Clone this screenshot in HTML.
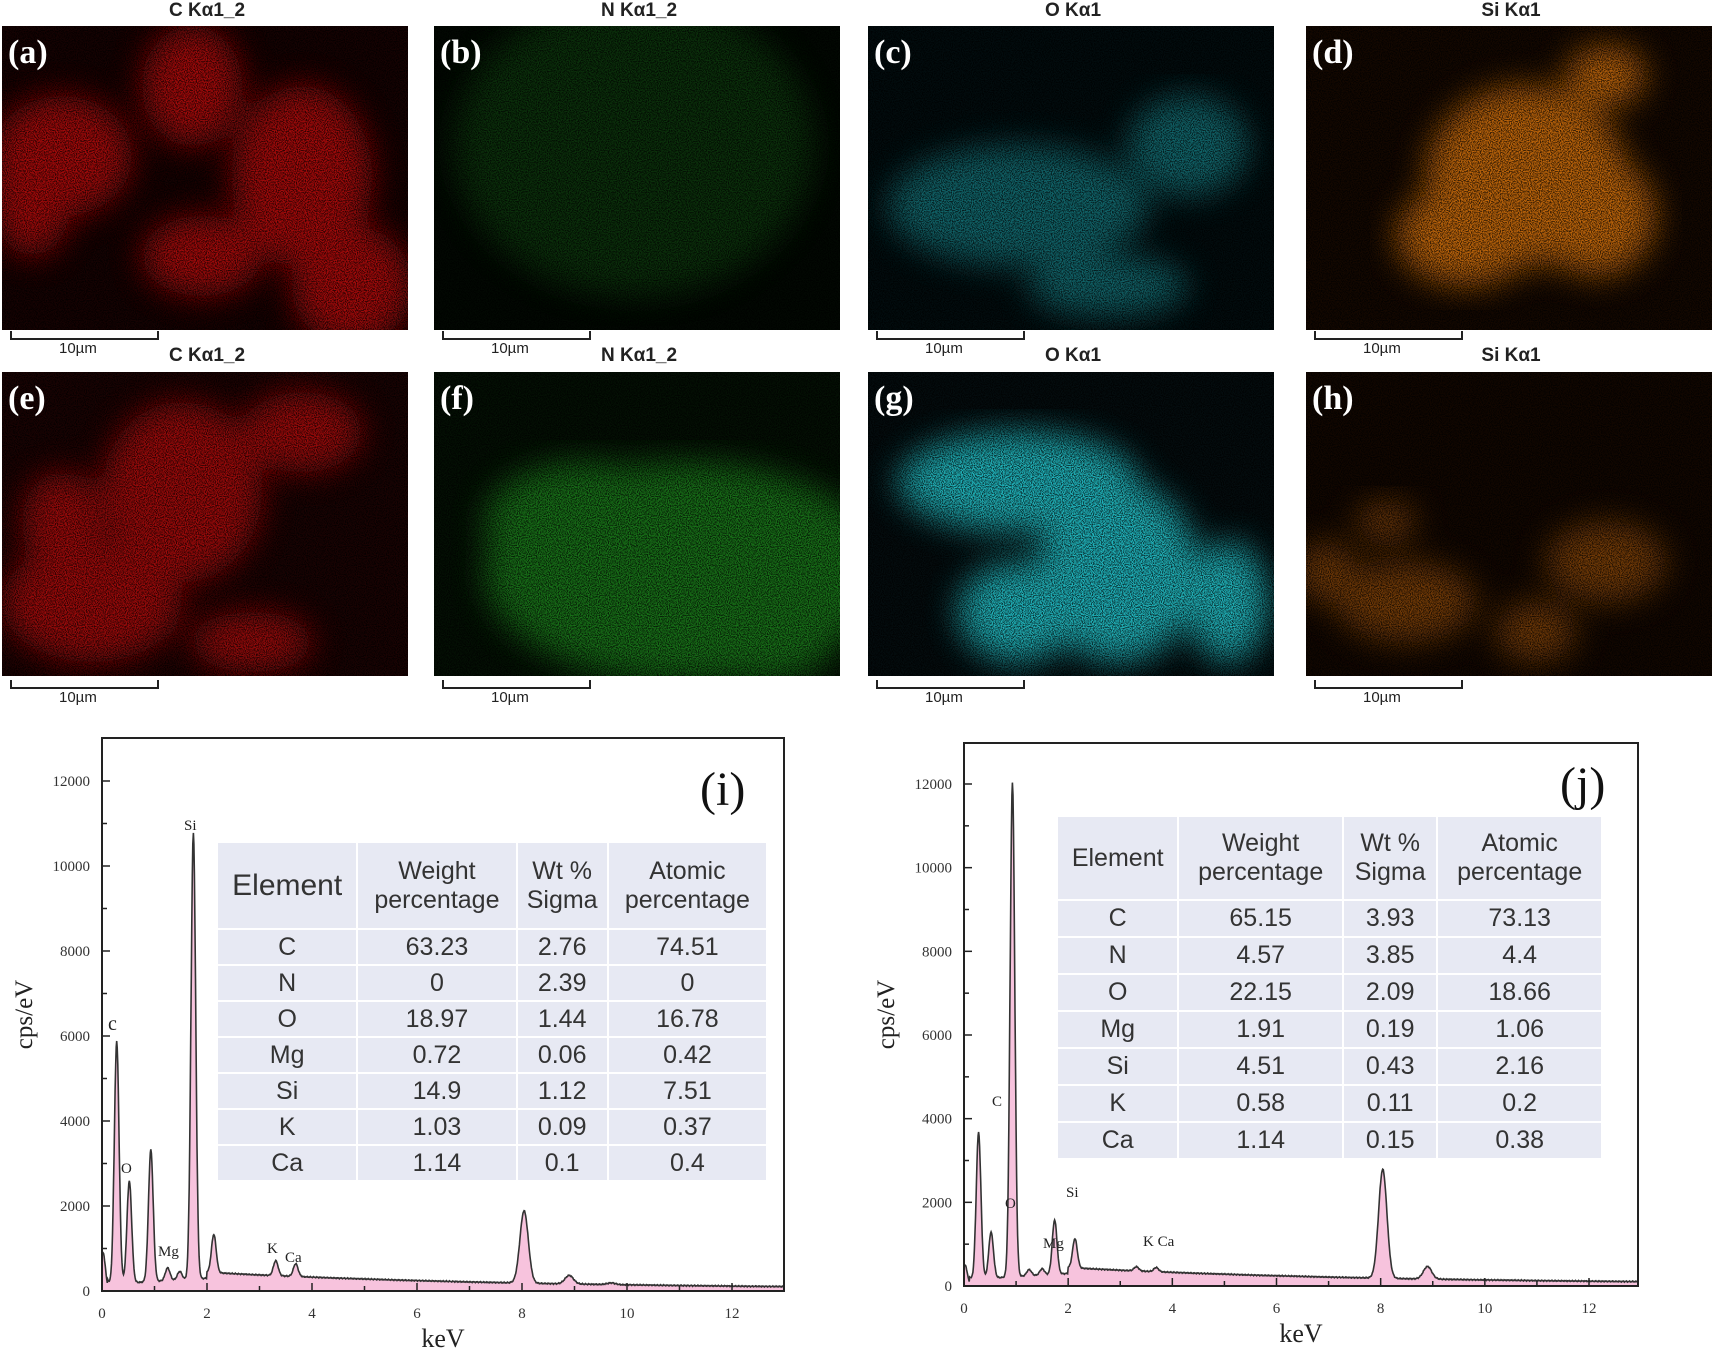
<!DOCTYPE html>
<html><head><meta charset="utf-8">
<style>
body{margin:0;background:#fff;width:1712px;height:1354px;overflow:hidden;position:relative;font-family:"Liberation Sans",sans-serif}
.t{position:absolute;font-size:19px;font-weight:bold;color:#222;text-align:center;width:200px}
.map{position:absolute;width:406px;height:304px;background:#000}
.lab{position:absolute;font-family:"Liberation Serif",serif;font-weight:bold;color:#fff;font-size:34px}
.sb{position:absolute;width:145px;height:7px;border:2px solid #222;border-top:none}
.sbt{position:absolute;font-size:15px;color:#222}
table{position:absolute;border-collapse:collapse;font-family:"Liberation Sans",sans-serif;color:#333;text-align:center}
td{background:#e7e9f3;border:2px solid #fff;padding:0}
</style></head><body>
<svg width="0" height="0" style="position:absolute">
<defs>
<filter id="sp" x="0" y="0" width="100%" height="100%">
<feTurbulence type="fractalNoise" baseFrequency="0.9" numOctaves="1" seed="3" result="n"/>
<feColorMatrix in="n" type="matrix" values="0 0 0 0 0 0 0 0 0 0 0 0 0 0 0 0 0 0 -4 2.4" />
</filter>
<filter id="bl"><feGaussianBlur stdDeviation="16"/></filter>
</defs></svg>

<div id="maps"></div>

<svg style="position:absolute;left:0;top:0" width="1712" height="1354" id="ch"></svg>

<table style="left:216px;top:841px;width:552px;height:341px;font-size:25px">
<tr style="height:87px"><td style="font-size:30px">Element</td><td>Weight<br>percentage</td><td>Wt %<br>Sigma</td><td>Atomic<br>percentage</td></tr>
<tr><td>C</td><td>63.23</td><td>2.76</td><td>74.51</td></tr>
<tr><td>N</td><td>0</td><td>2.39</td><td>0</td></tr>
<tr><td>O</td><td>18.97</td><td>1.44</td><td>16.78</td></tr>
<tr><td>Mg</td><td>0.72</td><td>0.06</td><td>0.42</td></tr>
<tr><td>Si</td><td>14.9</td><td>1.12</td><td>7.51</td></tr>
<tr><td>K</td><td>1.03</td><td>0.09</td><td>0.37</td></tr>
<tr><td>Ca</td><td>1.14</td><td>0.1</td><td>0.4</td></tr>
</table>
<table style="left:1056px;top:815px;width:547px;height:345px;font-size:25px">
<tr style="height:84px"><td>Element</td><td>Weight<br>percentage</td><td>Wt %<br>Sigma</td><td>Atomic<br>percentage</td></tr>
<tr><td>C</td><td>65.15</td><td>3.93</td><td>73.13</td></tr>
<tr><td>N</td><td>4.57</td><td>3.85</td><td>4.4</td></tr>
<tr><td>O</td><td>22.15</td><td>2.09</td><td>18.66</td></tr>
<tr><td>Mg</td><td>1.91</td><td>0.19</td><td>1.06</td></tr>
<tr><td>Si</td><td>4.51</td><td>0.43</td><td>2.16</td></tr>
<tr><td>K</td><td>0.58</td><td>0.11</td><td>0.2</td></tr>
<tr><td>Ca</td><td>1.14</td><td>0.15</td><td>0.38</td></tr>
</table>

<script>
var xs=[2,434,868,1306];
var titles=["C Kα1_2","N Kα1_2","O Kα1","Si Kα1"];
var labs=["abcd","efgh"];
var cols=[["#c81010","#1c7a1c","#1aa0a8","#d07010"],["#c81010","#28b028","#28d0d8","#b86010"]];
var bases=[["#160202","#020802","#020c0e","#140800"],["#1a0303","#041004","#040c0e","#120700"]];
var ops=[[0.8,0.35,0.6,0.9],[0.75,0.6,0.85,0.6]];
var blobs=[
 [[[190,60,50,60],[60,130,70,60],[300,150,70,90],[350,260,60,60],[30,170,40,60],[200,230,60,40]],
  [[200,120,180,150]],
  [[150,180,130,60],[320,120,60,50],[240,260,80,30]],
  [[220,150,100,90],[160,210,70,50],[290,190,60,60],[300,50,40,30]]],
 [[[180,120,80,90],[90,230,90,60],[60,150,40,50],[300,60,60,40],[250,270,60,30]],
  [[250,200,200,110],[150,150,100,60],[330,250,80,60]],
  [[150,110,120,50],[250,200,80,90],[150,240,60,50],[360,230,40,60]],
  [[80,150,30,20],[100,230,70,40],[300,190,60,40],[230,260,40,30],[20,200,30,30]]]
];
var tops=[26,372];
var html="";
for(var r=0;r<2;r++)for(var c=0;c<4;c++){
 var x=xs[c],y=tops[r];
 var s='<svg class="map" style="left:'+x+'px;top:'+y+'px" width="406" height="304"><rect width="406" height="304" fill="'+bases[r][c]+'"/><g filter="url(#bl)" opacity="'+ops[r][c]+'">';
 blobs[r][c].forEach(function(b){s+='<ellipse cx="'+b[0]+'" cy="'+b[1]+'" rx="'+b[2]+'" ry="'+b[3]+'" fill="'+cols[r][c]+'"/>';});
 s+='</g><rect width="406" height="304" fill="#000" filter="url(#sp)" opacity="0.7"/></svg>';
 html+=s;
 html+='<div class="lab" style="left:'+(x+6)+'px;top:'+(y+8)+'px">('+labs[r][c]+')</div>';
 html+='<div class="t" style="left:'+(x+105)+'px;top:'+(r?345:0)+'px">'+titles[c]+'</div>';
 var by=r?680:331;
 html+='<div class="sb" style="left:'+(x+8)+'px;top:'+by+'px"></div>';
 html+='<div class="sbt" style="left:'+(x+57)+'px;top:'+(by+9)+'px">10µm</div>';
}
document.getElementById("maps").innerHTML=html;

function chart(o){
 var g="";
 var X=function(k){return o.x0+(o.x12-o.x0)*k/12;};
 var Y=function(v){return o.y0-(o.y0-o.y12)*v/12000;};
 var pts=[];
 for(var k=0;k<=13;k+=0.01){
  var bg= k<0.1?0: (k<2? 150+150*k/2: 400*Math.exp(-(k-2)/6)+40);
  var v=bg;
  o.peaks.forEach(function(p){var sg=p[0]>7?0.08:0.045;v+=p[1]*Math.exp(-Math.pow(k-p[0],2)/(2*sg*sg));});
  v+= (Math.sin(k*97)*0.5+Math.sin(k*211)*0.5)*15;
  var px=X(k); if(px>o.xr)break;
  pts.push(px.toFixed(1)+","+Y(Math.max(v,0)).toFixed(1));
 }
 g+='<path d="M'+o.x0+','+o.y0+' L'+pts.join(" L")+' L'+pts[pts.length-1].split(",")[0]+','+o.y0+' Z" fill="#f7c3dd" stroke="none"/>';
 g+='<path d="M'+pts.join(" L")+'" fill="none" stroke="#333" stroke-width="1.6"/>';
 g+='<rect x="'+o.x0+'" y="'+o.top+'" width="'+(o.xr-o.x0)+'" height="'+(o.y0-o.top)+'" fill="none" stroke="#222" stroke-width="2"/>';
 for(var v=0;v<=12000;v+=1000){var yy=Y(v);g+='<line x1="'+o.x0+'" x2="'+(o.x0+(v%2000?5:8))+'" y1="'+yy+'" y2="'+yy+'" stroke="#222" stroke-width="1.5"/>';
  if(v%2000==0)g+='<text x="'+(o.x0-12)+'" y="'+(yy+5)+'" text-anchor="end" font-size="15" font-family="Liberation Serif" fill="#333">'+v+'</text>';}
 for(var k=0;k<=12.5;k+=1){var xx=X(k);g+='<line x1="'+xx+'" x2="'+xx+'" y1="'+o.y0+'" y2="'+(o.y0-(k%2?5:8))+'" stroke="#222" stroke-width="1.5"/>';
  if(k%2==0)g+='<text x="'+xx+'" y="'+(o.y0+27)+'" text-anchor="middle" font-size="15" font-family="Liberation Serif" fill="#333">'+k+'</text>';}
 g+='<text x="'+((o.x0+o.xr)/2)+'" y="'+(o.y0+56)+'" text-anchor="middle" font-size="26" font-family="Liberation Serif" fill="#222">keV</text>';
 g+='<text transform="translate('+(o.x0-70)+','+((o.top+o.y0)/2)+') rotate(-90)" text-anchor="middle" font-size="25" font-family="Liberation Serif" fill="#222">cps/eV</text>';
 g+='<text x="'+o.lx+'" y="'+o.ly+'" font-size="48" font-family="Liberation Serif" fill="#111">'+o.lab+'</text>';
 o.anns.forEach(function(a){g+='<text x="'+a[1]+'" y="'+a[2]+'" font-size="'+(a[3]||15)+'" font-family="Liberation Serif" fill="#222">'+a[0]+'</text>';});
 return g;
}
var s="";
s+=chart({x0:102,x12:732,xr:784,y0:1291,y12:781,top:738,lab:"(i)",lx:700,ly:805,
 peaks:[[0.02,900],[0.28,5700],[0.52,2400],[0.93,3100],[1.25,300],[1.48,200],[1.74,10500],[2.13,900],[3.31,350],[3.69,300],[8.04,1700],[8.9,200],[9.7,40]],
 anns:[["Si",184,830],["c",108,1030,20],["O",121,1173],["Mg",158,1256],["K",267,1253],["Ca",285,1262]]});
s+=chart({x0:964,x12:1589,xr:1638,y0:1286,y12:784,top:743,lab:"(j)",lx:1560,ly:800,
 peaks:[[0.02,500],[0.28,3500],[0.52,1100],[0.93,11800],[1.25,150],[1.5,150],[1.74,1300],[2.13,700],[3.31,100],[3.69,100],[8.04,2600],[8.9,300]],
 anns:[["C",992,1106],["O",1005,1208],["Mg",1043,1248],["Si",1066,1197],["K Ca",1143,1246]]});
document.getElementById("ch").innerHTML=s;
</script>
</body></html>
